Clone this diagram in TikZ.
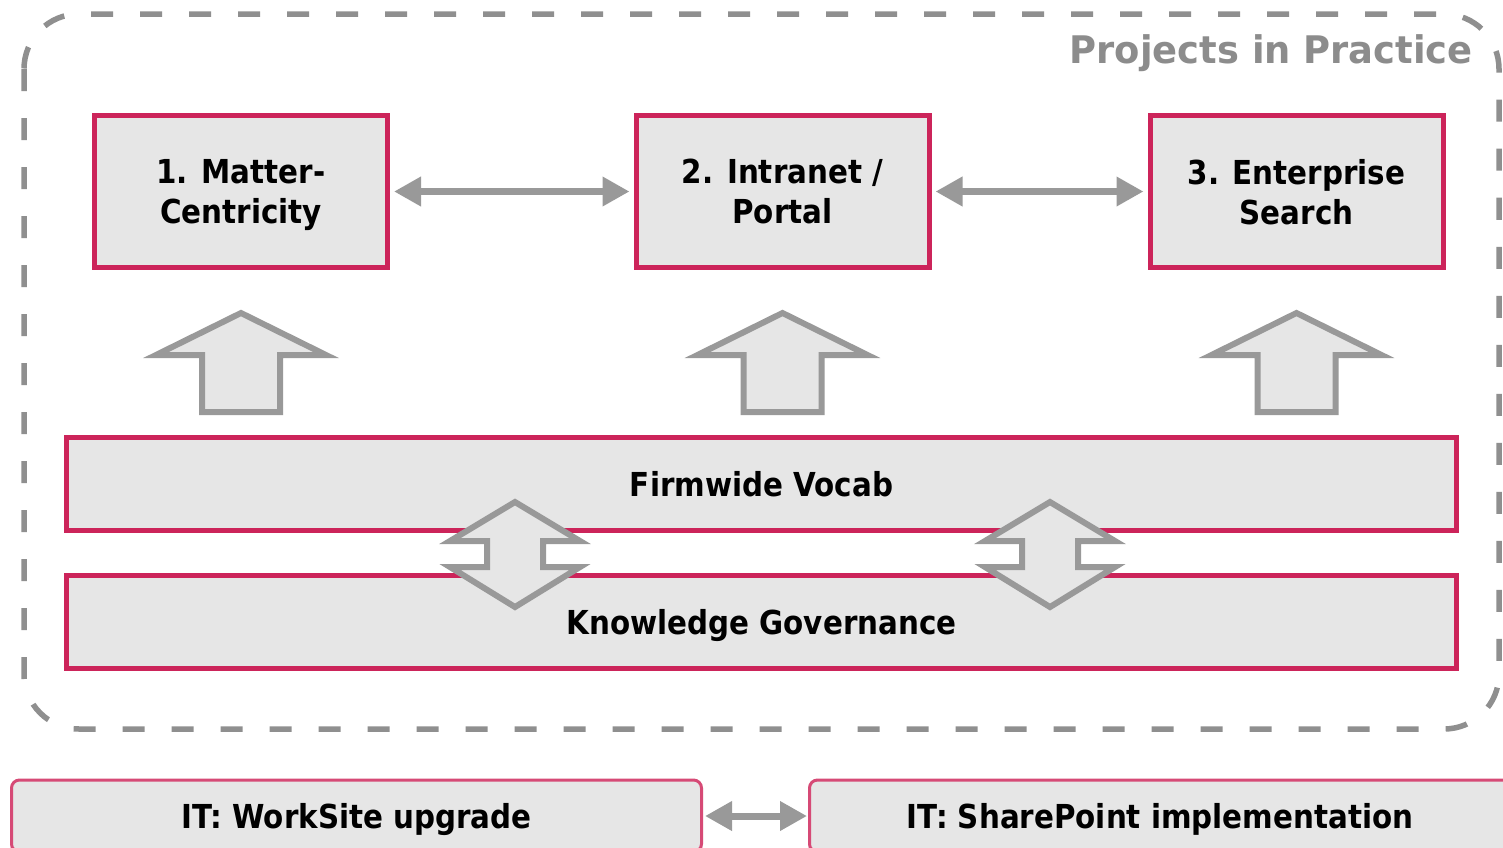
\documentclass[tikz,border=0pt]{standalone}
\usepackage{fontspec}
\setmainfont{DejaVu Sans}
\newfontfamily\bodyfont{DejaVu Sans}[FakeStretch=0.89]
\newfontfamily\titlefont{DejaVu Sans}[FakeStretch=0.97]
\usetikzlibrary{arrows.meta}
\definecolor{pinkb}{RGB}{204,36,90}
\definecolor{pinkl}{RGB}{214,74,118}
\definecolor{boxfill}{RGB}{230,230,230}
\definecolor{arrowgray}{RGB}{153,153,153}
\definecolor{dashgray}{RGB}{143,143,143}
\definecolor{titlegray}{RGB}{140,140,140}
\begin{document}
\begin{tikzpicture}[x=1pt,y=-1pt,
  txt/.style={font=\bodyfont\bfseries\fontsize{33}{40}\selectfont, text=black},
  topbox/.style={txt, draw=pinkb, line width=5pt, fill=boxfill, minimum width=293pt, minimum height=152pt, inner sep=0pt, align=center, text depth=0pt},
  barbox/.style={txt, draw=pinkb, line width=5pt, fill=boxfill, minimum width=1390pt, minimum height=93pt, inner sep=0pt, text height=24pt, text depth=0pt},
  itbox/.style={txt, draw=pinkl, line width=3pt, fill=boxfill, rounded corners=8pt, minimum height=72pt, inner sep=0pt, text height=24pt, text depth=0pt},
  dblarrow/.style={draw=arrowgray, line width=7pt, {Triangle[length=27pt,width=28pt]}-{Triangle[length=27pt,width=28pt]}, shorten <=4pt, shorten >=4pt},
  blockarrow/.style={draw=arrowgray, line width=6pt, fill=boxfill, line join=miter},
  frame/.style={draw=dashgray, line width=5.5pt, dash pattern=on 22pt off 27pt, rounded corners=55pt}
]
\useasboundingbox (0,0) rectangle (1503,847);
\fill[white] (0,0) rectangle (1503,847);

% dashed frame
\draw[frame] (24,14) rectangle (1499,729);
\node[font=\titlefont\bfseries\fontsize{38}{44}\selectfont, text=titlegray, anchor=base east, inner sep=0pt] (title) at (1473,63) {Projects in Practice};

% top boxes
\node[topbox] (b1) at (241,191.5) {1. Matter-\\Centricity};
\node[topbox] (b2) at (782.5,191.5) {2. Intranet /\\Portal};
\node[topbox] (b3) at (1296.5,191.5) {3. Enterprise\\Search};

\draw[dblarrow] (b1) -- (b2);
\draw[dblarrow] (b2) -- (b3);

% up block arrows
\foreach \cx in {241,782.5,1296.5}{
  \draw[blockarrow] (\cx-39,412) -- (\cx-39,355) -- (\cx-85,355) -- (\cx,313) -- (\cx+85,355) -- (\cx+39,355) -- (\cx+39,412) -- cycle;
}

% bars
\node[barbox] (vocab) at (761.5,484) {Firmwide Vocab};
\node[barbox] (gov) at (761.5,622) {Knowledge Governance};

% double block arrows
\foreach \cx in {515,1050}{
  \draw[blockarrow] (\cx,502) -- (\cx+65,541) -- (\cx+28,541) -- (\cx+28,567) -- (\cx+65,567) -- (\cx,607) -- (\cx-65,567) -- (\cx-28,567) -- (\cx-28,541) -- (\cx-65,541) -- cycle;
}

% bottom IT boxes
\node[itbox, minimum width=690pt] (ws) at (356.5,816) {IT: WorkSite upgrade};
\node[itbox, minimum width=701pt] (sp) at (1160,816) {IT: SharePoint implementation};
\draw[dblarrow, shorten <=2pt, shorten >=1pt] (ws) -- (sp);
\end{tikzpicture}
\end{document}
